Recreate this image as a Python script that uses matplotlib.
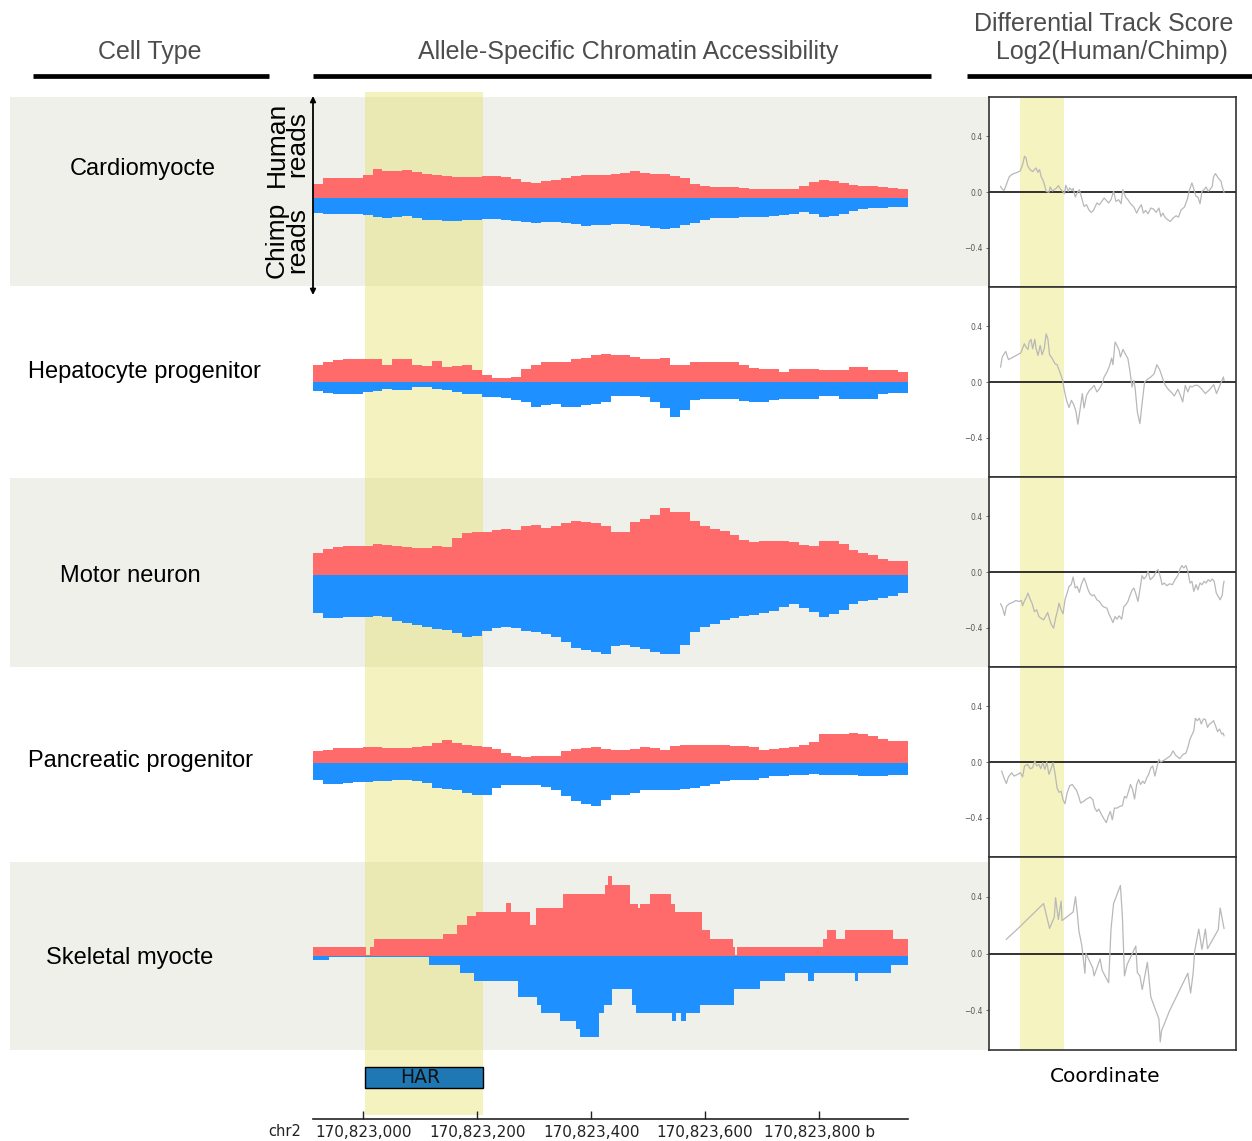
import numpy as np
import matplotlib
matplotlib.use("Agg")
import matplotlib.pyplot as plt
from matplotlib.patches import Rectangle

# ---------------- genomic window ----------------
CHROM = "chr2"
START = 170822912
END = 170823956
HAR_START, HAR_END = 170823003, 170823210
HAR_LABEL_POS = 170823100
BIN_BP = 17.4  # coverage bin width (bp)

tick_positions = [170823000, 170823200, 170823400, 170823600, 170823800]
tick_labels = ["170,823,000", "170,823,200", "170,823,400", "170,823,600", "170,823,800 b"]

cell_types = ["Cardiomyocte", "Hepatocyte progenitor", "Motor neuron",
              "Pancreatic progenitor", "Skeletal myocte"]

# ---------------- allele-specific read coverage (60 bins) ----------------
cardio_human = [14, 20, 20, 20, 20, 23, 29, 27, 27, 28, 26, 24, 23, 22, 21, 21, 21, 22, 22, 21,
                19, 16, 15, 17, 18, 20, 22, 23, 23, 23, 24, 25, 27, 25, 24, 24, 22, 20, 14, 12,
                11, 11, 11, 10, 9, 9, 9, 9, 9, 12, 16, 18, 17, 15, 13, 12, 12, 11, 10, 9]
cardio_chimp = [15, 16, 16, 16, 16, 17, 19, 20, 19, 18, 20, 22, 22, 23, 23, 22, 22, 21, 21, 22,
                23, 24, 25, 24, 24, 25, 26, 28, 27, 27, 26, 26, 27, 28, 30, 31, 30, 27, 25, 22,
                20, 20, 20, 19, 19, 19, 18, 17, 16, 14, 16, 19, 18, 16, 13, 11, 10, 10, 9, 9]

hepato_human = [17, 20, 22, 23, 23, 23, 23, 17, 23, 23, 17, 16, 21, 15, 16, 17, 12, 7, 4, 4,
                5, 13, 17, 20, 20, 20, 23, 24, 27, 28, 27, 27, 25, 23, 23, 24, 17, 17, 20, 20,
                20, 20, 20, 17, 14, 13, 13, 10, 13, 13, 13, 12, 12, 12, 15, 15, 12, 12, 12, 10]
hepato_chimp = [9, 11, 12, 12, 12, 10, 9, 7, 8, 8, 5, 5, 7, 8, 10, 12, 12, 15, 15, 16,
                18, 20, 25, 23, 22, 25, 25, 23, 22, 20, 14, 14, 14, 15, 20, 26, 35, 28, 18, 17,
                17, 17, 17, 19, 20, 20, 18, 17, 17, 17, 17, 14, 14, 17, 17, 17, 17, 12, 11, 11]

motor_human = [22, 26, 28, 29, 29, 29, 31, 30, 29, 28, 27, 27, 29, 28, 37, 42, 43, 43, 45, 46,
               45, 49, 50, 47, 49, 52, 54, 53, 52, 49, 43, 43, 53, 56, 60, 67, 63, 63, 54, 49,
               46, 44, 40, 35, 33, 34, 34, 34, 33, 30, 29, 34, 34, 31, 25, 22, 20, 16, 14, 14]
motor_chimp = [38, 43, 43, 42, 42, 42, 41, 42, 46, 48, 50, 52, 54, 55, 58, 62, 61, 56, 53, 52,
               53, 56, 57, 59, 62, 67, 73, 75, 77, 79, 71, 70, 72, 74, 77, 79, 79, 70, 57, 52,
               49, 45, 43, 41, 40, 38, 36, 32, 29, 33, 37, 42, 39, 35, 29, 26, 25, 23, 21, 18]

pancreatic_human = [12, 13, 15, 15, 15, 16, 16, 15, 15, 15, 16, 17, 20, 23, 20, 18, 17, 16, 14, 10,
                    7, 6, 7, 7, 7, 12, 14, 15, 16, 14, 13, 13, 14, 16, 15, 13, 17, 18, 18, 18,
                    18, 18, 17, 17, 16, 13, 14, 15, 16, 18, 21, 29, 29, 29, 30, 29, 27, 24, 22, 22]
pancreatic_chimp = [17, 21, 21, 20, 19, 19, 18, 18, 17, 17, 18, 20, 25, 26, 27, 30, 32, 32, 25, 22,
                    22, 22, 22, 24, 27, 33, 38, 41, 43, 37, 32, 32, 30, 27, 27, 27, 27, 26, 25, 23,
                    21, 18, 17, 17, 17, 15, 13, 13, 12, 12, 11, 12, 12, 12, 12, 13, 13, 13, 12, 12]

# skeletal myocyte coverage is sparse: run-length segments (start offset in bp, value)
skeletal_human_starts = [0, 93, 100, 107, 228, 253, 270, 286, 339, 347, 381, 391, 439, 512, 517,
                         524, 557, 570, 574, 591, 628, 636, 682, 697, 737, 740, 744, 895, 902,
                         917, 934, 1017]
skeletal_human = [9, 1, 9, 17, 22, 31, 40, 44, 53, 44, 31, 48, 62, 71, 80,
                  71, 52, 48, 52, 62, 52, 44, 26, 17, 9, 1, 9, 17, 26,
                  17, 26, 17]
skeletal_chimp_starts = [0, 28, 203, 258, 282, 360, 393, 400, 433, 461, 468, 502, 510, 524, 560,
                         567, 630, 637, 645, 654, 679, 738, 784, 828, 868, 879, 951, 956, 1014]
skeletal_chimp = [4, 1, 9, 17, 25, 41, 49, 57, 65, 73, 81, 57, 49, 33, 49,
                  57, 65, 57, 65, 57, 49, 33, 25, 17, 25, 17, 25, 17, 9]

# ---------------- differential track score, log2(human/chimp) ----------------
cardio_log2_pos = [0, 5, 16, 24, 40, 52, 79, 92, 103, 112, 119, 126, 138, 150, 158, 166, 174, 182, 190, 197,
                   205, 213, 226, 232, 242, 251, 260, 270, 279, 289, 298, 305, 316, 323, 333, 339, 349, 358, 368, 379,
                   390, 402, 412, 423, 434, 450, 462, 473, 484, 494, 505, 516, 528, 539, 552, 563, 571, 584, 595, 607,
                   623, 636, 647, 658, 667, 678, 689, 702, 714, 727, 740, 749, 758, 768, 781, 793, 806, 820, 831, 844,
                   859, 872, 883, 894, 903, 913, 922, 932, 941, 951, 960, 970, 978, 989, 995, 1004, 1017, 1030, 1036, 1044]
cardio_log2 = [.04, .026, .01, .04, .108, .125, .141, .151, .196, .256, .244, .189, .16, .146, .16, .172, .141, .16, .108, .089,
               .053, .005, -.002, .036, .007, .017, .026, .046, .022, .005, -.012, .048, .005, .029, .012, .026, -.036, -.007, .017, -.043,
               -.103, -.091, -.127, -.146, -.132, -.079, -.091, -.067, -.043, -.06, -.079, -.055, .005, -.067, -.055, -.084, .017, -.036, -.055, -.084,
               -.108, -.151, -.115, -.091, -.151, -.132, -.156, -.115, -.122, -.146, -.115, -.175, -.151, -.18, -.199, -.211, -.187, -.17, -.18, -.127,
               -.108, -.055, .017, .065, .022, -.031, -.036, -.084, .005, .017, .036, .005, .017, .04, .108, .132, .1, .077, .036, -.002]

hepato_log2_pos = [0, 8, 24, 37, 56, 79, 95, 111, 119, 128, 134, 142, 150, 160, 166, 175, 185, 194, 204, 213,
                   221, 229, 242, 254, 264, 276, 289, 298, 308, 320, 331, 342, 352, 361, 371, 382, 390, 402, 415, 427,
                   437, 450, 462, 475, 484, 497, 509, 519, 525, 535, 544, 554, 560, 572, 585, 595, 604, 614, 623, 629,
                   639, 651, 662, 673, 686, 702, 718, 730, 743, 755, 768, 781, 796, 812, 828, 840, 851, 863, 875, 885,
                   894, 907, 922, 938, 957, 978, 996, 1009, 1025, 1041, 1044]
hepato_log2 = [.107, .179, .219, .16, .176, .195, .209, .274, .25, .233, .286, .305, .238, .305, .238, .19, .262, .195, .238, .345,
               .309, .195, .167, .131, .124, .076, .019, -.06, -.131, -.183, -.131, -.162, -.209, -.302, -.202, -.083, -.186, -.095, -.06, -.043,
               -.024, -.071, -.048, -.012, .036, .071, .114, .171, .124, .286, .262, .226, .179, .233, .195, .167, .083, -.036, .012, -.048,
               -.214, -.298, -.143, 0, .019, .036, .06, .124, .09, .036, -.019, -.048, -.071, -.1, -.052, -.095, -.143, -.024, -.071, -.029,
               -.036, -.024, -.024, -.048, -.083, -.052, -.019, -.083, -.024, .036, .012]

motor_log2_pos = [0, 8, 19, 27, 40, 56, 71, 87, 97, 103, 112, 119, 128, 138, 147, 158, 169, 179, 190, 201,
                  210, 220, 229, 238, 248, 257, 267, 273, 283, 292, 301, 311, 320, 330, 339, 349, 358, 368, 377, 390,
                  399, 409, 418, 428, 437, 450, 462, 475, 484, 497, 506, 516, 525, 535, 544, 554, 566, 576, 585, 595,
                  604, 614, 623, 632, 642, 651, 661, 670, 680, 689, 699, 708, 718, 727, 736, 746, 755, 765, 777, 790,
                  803, 815, 828, 837, 847, 856, 866, 875, 885, 894, 903, 913, 922, 932, 941, 951, 960, 970, 979, 989,
                  998, 1008, 1017, 1026, 1036, 1040, 1044]
motor_log2 = [-.228, -.251, -.311, -.247, -.228, -.218, -.204, -.211, -.204, -.242, -.204, -.187, -.151, -.194, -.223, -.283, -.271, -.319, -.331, -.343,
              -.319, -.29, -.338, -.378, -.402, -.331, -.271, -.223, -.271, -.299, -.199, -.151, -.103, -.091, -.036, -.115, -.103, -.146, -.091, -.043,
              -.079, -.127, -.156, -.17, -.163, -.199, -.211, -.242, -.251, -.259, -.299, -.331, -.362, -.319, -.338, -.314, -.338, -.247, -.235, -.211,
              -.17, -.132, -.115, -.156, -.211, -.127, -.026, -.05, -.031, .005, -.055, -.043, -.026, .005, .017, -.031, -.091, -.079, -.098, -.084,
              -.091, -.055, -.026, .017, .046, .029, .046, .005, -.079, -.067, -.139, -.091, -.127, -.079, -.091, -.067, -.079, -.055, -.067, -.05,
              -.067, -.151, -.175, -.199, -.163, -.103, -.067]

pancreatic_log2_pos = [5, 16, 27, 37, 52, 63, 79, 92, 103, 112, 126, 138, 150, 160, 169, 179, 188, 197, 207, 216,
                       226, 235, 245, 254, 264, 273, 283, 292, 301, 311, 323, 336, 346, 355, 365, 374, 387, 402, 418, 431,
                       440, 450, 459, 472, 484, 494, 503, 513, 522, 532, 544, 557, 569, 579, 588, 598, 607, 617, 626, 636,
                       645, 654, 664, 673, 683, 692, 702, 711, 721, 730, 740, 749, 765, 781, 793, 806, 818, 837, 853, 866,
                       875, 885, 894, 903, 910, 919, 929, 938, 948, 957, 967, 976, 985, 995, 1004, 1014, 1023, 1033, 1040, 1044]
pancreatic_log2 = [-.065, -.113, -.154, -.106, -.077, -.101, -.089, -.077, -.106, -.029, -.017, -.048, -.041, .007, -.029, -.017, -.048, -.005, -.053, 0,
                   -.089, -.053, -.005, -.077, -.186, -.217, -.21, -.27, -.299, -.222, -.169, -.161, -.186, -.202, -.246, -.294, -.282, -.265, -.251, -.27,
                   -.33, -.354, -.337, -.378, -.41, -.434, -.39, -.354, -.414, -.33, -.33, -.318, -.313, -.246, -.258, -.21, -.161, -.198, -.265, -.161,
                   -.125, -.161, -.137, -.154, -.113, -.089, -.041, -.029, -.101, -.041, .019, 0, .014, .031, .043, .08, .048, .024, .055, .063,
                   .104, .164, .193, .224, .313, .296, .313, .272, .308, .304, .248, .272, .28, .296, .26, .217, .236, .2, .207, .188]

skeletal_log2_pos = [27, 87, 201, 229, 251, 257, 270, 283, 287, 339, 350, 358, 366, 380, 394, 399, 431, 437, 465, 475,
                     505, 516, 528, 560, 569, 579, 591, 632, 639, 651, 662, 686, 702, 740, 746, 752, 790, 875, 888, 900,
                     907, 926, 941, 957, 967, 1017, 1026, 1044]
skeletal_log2 = [.1, .184, .352, .177, .256, .393, .24, .369, .232, .292, .4, .292, .16, .053, -.139, 0, -.103, -.158, -.038, -.12,
                 -.206, .172, .352, .479, .268, -.158, -.079, .053, -.134, -.158, -.254, -.062, -.307, -.462, -.623, -.546, -.402, -.139, -.278, -.134,
                 .017, .172, .029, .172, .034, .168, .321, .177]

# ---------------- styling ----------------
RED = "#ff6a6a"
BLUE = "#1e90ff"
BAND = "#f0f0eb"
HAR_YELLOW = "#f5f3c0"
SANS = ["Liberation Sans", "DejaVu Sans"]
HEAD_GRAY = "#4d4d4d"

W, H = 1252, 1141
fig = plt.figure(figsize=(W / 100, H / 100), dpi=100)


def box(x0, y0, x1, y1):
    """Figure rectangle from pixel edges (origin top-left)."""
    return [x0 / W, 1 - y1 / H, (x1 - x0) / W, (y1 - y0) / H]


# background layer in pixel units
bg = fig.add_axes([0, 0, 1, 1], zorder=0)
bg.set_xlim(0, W)
bg.set_ylim(H, 0)
bg.axis("off")

row_spans = [(97, 286), (287, 477), (478, 667), (667, 857), (862, 1050)]
for i, (t, b) in enumerate(row_spans):
    if i % 2 == 0:
        bg.add_patch(Rectangle((10, t), 979, b - t, facecolor=BAND, lw=0))

for x0, x1 in [(33, 269), (313, 931), (967, 1252)]:
    bg.plot([x0, x1], [76, 76], color="black", lw=3.4, solid_capstyle="butt")

bg.text(150, 52, "Cell Type", ha="center", va="center", fontsize=18, color=HEAD_GRAY, family=SANS)
bg.text(628, 52, "Allele-Specific Chromatin Accessibility", ha="center", va="center",
        fontsize=18, color=HEAD_GRAY, family=SANS)
bg.text(1104, 24, "Differential Track Score", ha="center", va="center", fontsize=18,
        color=HEAD_GRAY, family=SANS)
bg.text(1112, 52, "Log2(Human/Chimp)", ha="center", va="center", fontsize=18,
        color=HEAD_GRAY, family=SANS)

label_xy = [(143, 169), (144, 372), (130, 576), (141, 761), (130, 958)]
for name, (lx, ly) in zip(cell_types, label_xy):
    bg.text(lx, ly, name, ha="center", va="center", fontsize=17, color="black", family=SANS)

bg.text(301, 1132, CHROM, ha="right", va="center", fontsize=10.5, color="#222222",
        family="DejaVu Sans")
bg.text(1105, 1077, "Coordinate", ha="center", va="center", fontsize=14.5, color="black",
        family="DejaVu Sans")

# HAR highlight + genomic ruler
ov = fig.add_axes(box(313, 92, 908, 1119), zorder=1)
ov.patch.set_alpha(0)
ov.set_xlim(START, END)
ov.set_ylim(0, 1)
ov.axvspan(HAR_START, HAR_END, ymin=4 / 1027, ymax=1, color="#e2dd4b", alpha=0.35, lw=0)
har_y0, har_y1 = (1119 - 1088) / 1027, (1119 - 1067) / 1027
ov.add_patch(Rectangle((HAR_START, har_y0), HAR_END - HAR_START, har_y1 - har_y0,
                       facecolor="#1f77b4", edgecolor="black", lw=1.0))
ov.text(HAR_LABEL_POS, (har_y0 + har_y1) / 2, "HAR", ha="center", va="center",
        fontsize=13.5, color="#111111", family="DejaVu Sans")
for side in ["top", "left", "right"]:
    ov.spines[side].set_visible(False)
ov.spines["bottom"].set_color("#222222")
ov.spines["bottom"].set_linewidth(1.2)
ov.set_yticks([])
ov.set_xticks(tick_positions)
ov.set_xticklabels(tick_labels, fontsize=11, color="#222222", family="DejaVu Sans")
ov.tick_params(axis="x", direction="in", length=6, width=1.0, pad=4, color="#222222")

# coverage tracks
bin_edges = START + np.arange(61) * BIN_BP
binned_tracks = [(cardio_human, cardio_chimp), (hepato_human, hepato_chimp),
                 (motor_human, motor_chimp), (pancreatic_human, pancreatic_chimp)]
baselines = [197.7, 381.7, 575.0, 762.7, 955.7]

for i, ((t, b), base) in enumerate(zip(row_spans, baselines)):
    ax = fig.add_axes(box(313, t, 908, b), zorder=2)
    ax.patch.set_alpha(0)
    ax.set_xlim(START, END)
    ax.set_ylim(-(b - base), base - t)
    ax.axis("off")
    if i < 4:
        hum, chi = binned_tracks[i]
        edges_h = edges_c = bin_edges
    else:
        hum, chi = skeletal_human, skeletal_chimp
        edges_h = START + np.array(skeletal_human_starts + [END - START])
        edges_c = START + np.array(skeletal_chimp_starts + [END - START])
    ax.stairs(np.array(hum, dtype=float), edges_h, baseline=0, fill=True, color=RED, lw=0)
    ax.stairs(-np.array(chi, dtype=float), edges_c, baseline=0, fill=True, color=BLUE, lw=0)

# differential score panels
log2_series = [(cardio_log2_pos, cardio_log2), (hepato_log2_pos, hepato_log2),
               (motor_log2_pos, motor_log2), (pancreatic_log2_pos, pancreatic_log2),
               (skeletal_log2_pos, skeletal_log2)]
panel_edges = [97, 287, 477, 667, 857, 1050]
for i, (pos, val) in enumerate(log2_series):
    ax = fig.add_axes(box(989, panel_edges[i], 1236, panel_edges[i + 1]), zorder=3)
    ax.set_facecolor("white")
    ax.set_xlim(START - 54, START + 1100)
    ax.set_ylim(-0.68, 0.68)
    ax.axvspan(HAR_START, HAR_END, color=HAR_YELLOW, lw=0)
    ax.axhline(0, color="#111111", lw=1.2)
    ax.plot(START + np.array(pos), val, color="#b8b8b8", lw=0.9)
    ax.set_xticks([])
    ax.set_yticks([-0.4, 0.0, 0.4])
    ax.set_yticklabels(["\u22120.4", "0.0", "0.4"])
    ax.tick_params(axis="y", labelsize=5.5, colors="#555555", length=2.5, width=0.6, pad=2)
    for sp in ax.spines.values():
        sp.set_color("#333333")
        sp.set_linewidth(1.2)

# read-direction arrow and labels on the first track
top = fig.add_axes([0, 0, 1, 1], zorder=5)
top.patch.set_alpha(0)
top.set_xlim(0, W)
top.set_ylim(H, 0)
top.axis("off")
top.annotate("", xy=(313, 96), xytext=(313, 295),
             arrowprops=dict(arrowstyle="<|-|>", color="black", lw=1.3, mutation_scale=8,
                             shrinkA=0, shrinkB=0))
top.text(287, 144, "Human\nreads", rotation=90, ha="center", va="center", fontsize=19,
         linespacing=0.85, family=SANS, color="black")
top.text(287, 240, "Chimp\nreads", rotation=90, ha="center", va="center", fontsize=19,
         linespacing=0.85, family=SANS, color="black")

fig.savefig("out.png", dpi=100)
